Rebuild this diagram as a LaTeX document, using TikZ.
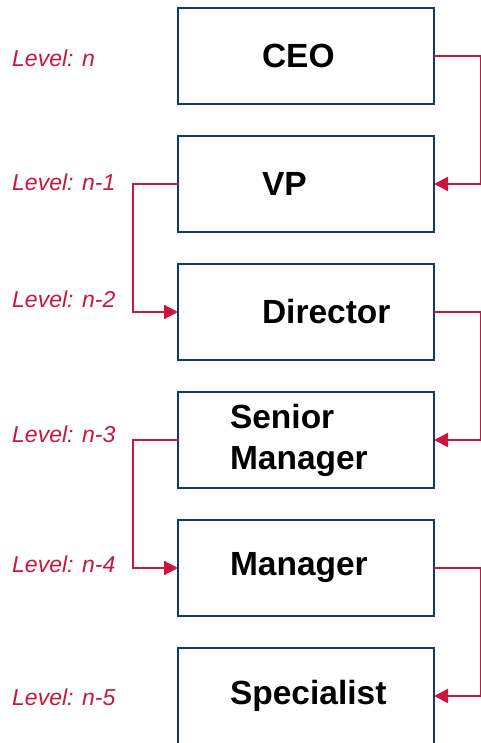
\documentclass[tikz,border=0pt]{standalone}
\usepackage{fontspec}
\setmainfont{Liberation Sans}
\usepackage{tikz}
\usetikzlibrary{arrows.meta,positioning}
\definecolor{ranknavy}{HTML}{12357F}
\definecolor{rankred}{HTML}{C8163E}

\begin{document}
\begin{tikzpicture}[x=1pt,y=-1pt,
  role/.style={draw=ranknavy,line width=1.6pt,minimum width=256pt,minimum height=96pt,
    outer sep=0pt,inner ysep=0pt,align=left,
    font=\fontsize{33.5}{41}\selectfont\bfseries},
  wide/.style={role,inner xsep=84pt,text width=88pt},
  narrow/.style={role,inner xsep=52pt,text width=152pt},
  lvl/.style={anchor=base west,inner sep=0pt,text=rankred,
    font=\fontsize{23}{27}\selectfont\itshape},
  link/.style={-{Triangle[length=14pt,width=14pt]},line width=2.4pt,rankred}
]
\useasboundingbox (0,0) rectangle (481,743);
% ranks, top down
\node[wide] (ceo) at (306,56) {CEO};
\node[wide,below=32pt of ceo] (vp) {VP};
\node[wide,below=32pt of vp] (dir) {Director};
\node[narrow,below=32pt of dir] (smgr) {Senior\\Manager};
\node[narrow,below=32pt of smgr] (mgr) {Manager};
\node[narrow,below=32pt of mgr] (spec) {Specialist};
% level tags
\node[lvl] (lv0) at (12,67) {Level: n};
\node[lvl] (lv1) at (12,191) {Level: n-1};
\node[lvl] (lv2) at (12,307) {Level: n-2};
\node[lvl] (lv3) at (12,442) {Level: n-3};
\node[lvl] (lv4) at (12,572) {Level: n-4};
\node[lvl] (lv5) at (12,705) {Level: n-5};
% steps down, alternating sides
\draw[link] (ceo.east) -- ++(47.5,0) |- (vp.east);
\draw[link] (vp.west) -- ++(-45,0) |- (dir.west);
\draw[link] (dir.east) -- ++(47.5,0) |- (smgr.east);
\draw[link] (smgr.west) -- ++(-45,0) |- (mgr.west);
\draw[link] (mgr.east) -- ++(47.5,0) |- (spec.east);
\end{tikzpicture}
\end{document}
